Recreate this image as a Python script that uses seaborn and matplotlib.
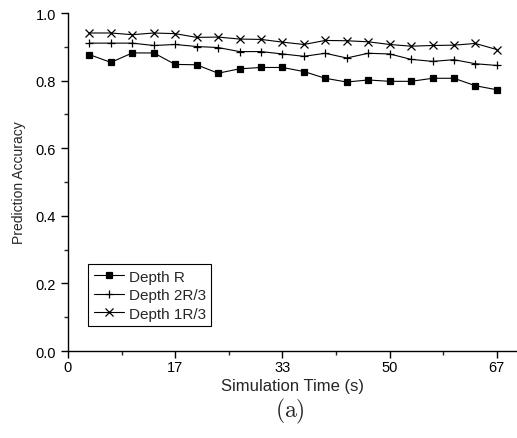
import numpy as np
import pandas as pd
import seaborn as sns
import matplotlib.pyplot as plt
from matplotlib.ticker import MultipleLocator, FixedLocator

# 数据
time_s = [3.33, 6.67, 10.0, 13.33, 16.67, 20.0, 23.33, 26.67, 30.0, 33.33,
          36.67, 40.0, 43.33, 46.67, 50.0, 53.33, 56.67, 60.0, 63.33, 66.67]
depth_r = [0.877, 0.854, 0.882, 0.882, 0.848, 0.847, 0.822, 0.835, 0.839, 0.839,
           0.827, 0.807, 0.796, 0.802, 0.798, 0.798, 0.807, 0.807, 0.785, 0.773]
depth_2r3 = [0.911, 0.911, 0.911, 0.904, 0.907, 0.901, 0.898, 0.886, 0.886, 0.879,
             0.872, 0.881, 0.867, 0.881, 0.879, 0.863, 0.857, 0.862, 0.850, 0.845]
depth_1r3 = [0.941, 0.941, 0.936, 0.941, 0.939, 0.928, 0.929, 0.923, 0.922, 0.914,
             0.907, 0.919, 0.918, 0.915, 0.907, 0.902, 0.904, 0.905, 0.910, 0.892]
series_names = ['Depth R', 'Depth 2R/3', 'Depth 1R/3']
x_ticks = [0, 50 / 3, 100 / 3, 50, 200 / 3]
x_ticklabels = ['0', '17', '33', '50', '67']

sns.set_theme(style='ticks')
plt.rcParams['font.family'] = ['Liberation Sans', 'DejaVu Sans']
plt.rcParams['mathtext.fontset'] = 'cm'

fig = plt.figure(figsize=(5.17, 4.39), dpi=100)
ax = fig.add_axes([0.1315, 0.198, 0.8685, 0.770])

# 三条曲线分别画
styles = [('s', 5), ('+', 6), ('x', 6)]
for vals, name, (mk, ms) in zip([depth_r, depth_2r3, depth_1r3], series_names, styles):
    sns.lineplot(x=time_s, y=vals, color='black', marker=mk, markersize=ms,
                 markeredgewidth=0.9, markeredgecolor='black', linewidth=0.8,
                 ax=ax, label=name)

ax.set_xlim(0, 69.8)
ax.set_ylim(0, 1.0)
ax.xaxis.set_major_locator(FixedLocator(x_ticks))
ax.set_xticklabels(x_ticklabels)
ax.xaxis.set_minor_locator(FixedLocator([25 / 3, 75 / 3, 125 / 3, 175 / 3]))
ax.yaxis.set_major_locator(MultipleLocator(0.2))
ax.yaxis.set_minor_locator(MultipleLocator(0.1))
ax.yaxis.set_major_formatter(plt.FormatStrFormatter('%.1f'))
ax.tick_params(which='major', direction='out', length=5, width=1, labelsize=10.5, colors='black')
ax.tick_params(axis='x', which='major', pad=1.5)
ax.tick_params(which='minor', direction='out', length=3, width=1)
for s in ['top', 'right']:
    ax.spines[s].set_visible(False)
for s in ['left', 'bottom']:
    ax.spines[s].set_linewidth(1)
    ax.spines[s].set_color('black')

ax.set_xlabel('Simulation Time (s)', fontsize=12, labelpad=3)
ax.set_ylabel('Prediction Accuracy', fontsize=10, labelpad=7)
fig.text(0.56, 0.05, r'$\mathrm{(a)}$', fontsize=17, ha='center')

leg = ax.legend(loc='lower left', bbox_to_anchor=(0.045, 0.074), borderaxespad=0,
                fontsize=11, frameon=True, fancybox=False, edgecolor='black',
                handlelength=2.0, borderpad=0.35, labelspacing=0.3, handletextpad=0.3)
leg.get_frame().set_linewidth(0.8)
leg.get_frame().set_alpha(1)

plt.savefig('out.png', dpi=100)
